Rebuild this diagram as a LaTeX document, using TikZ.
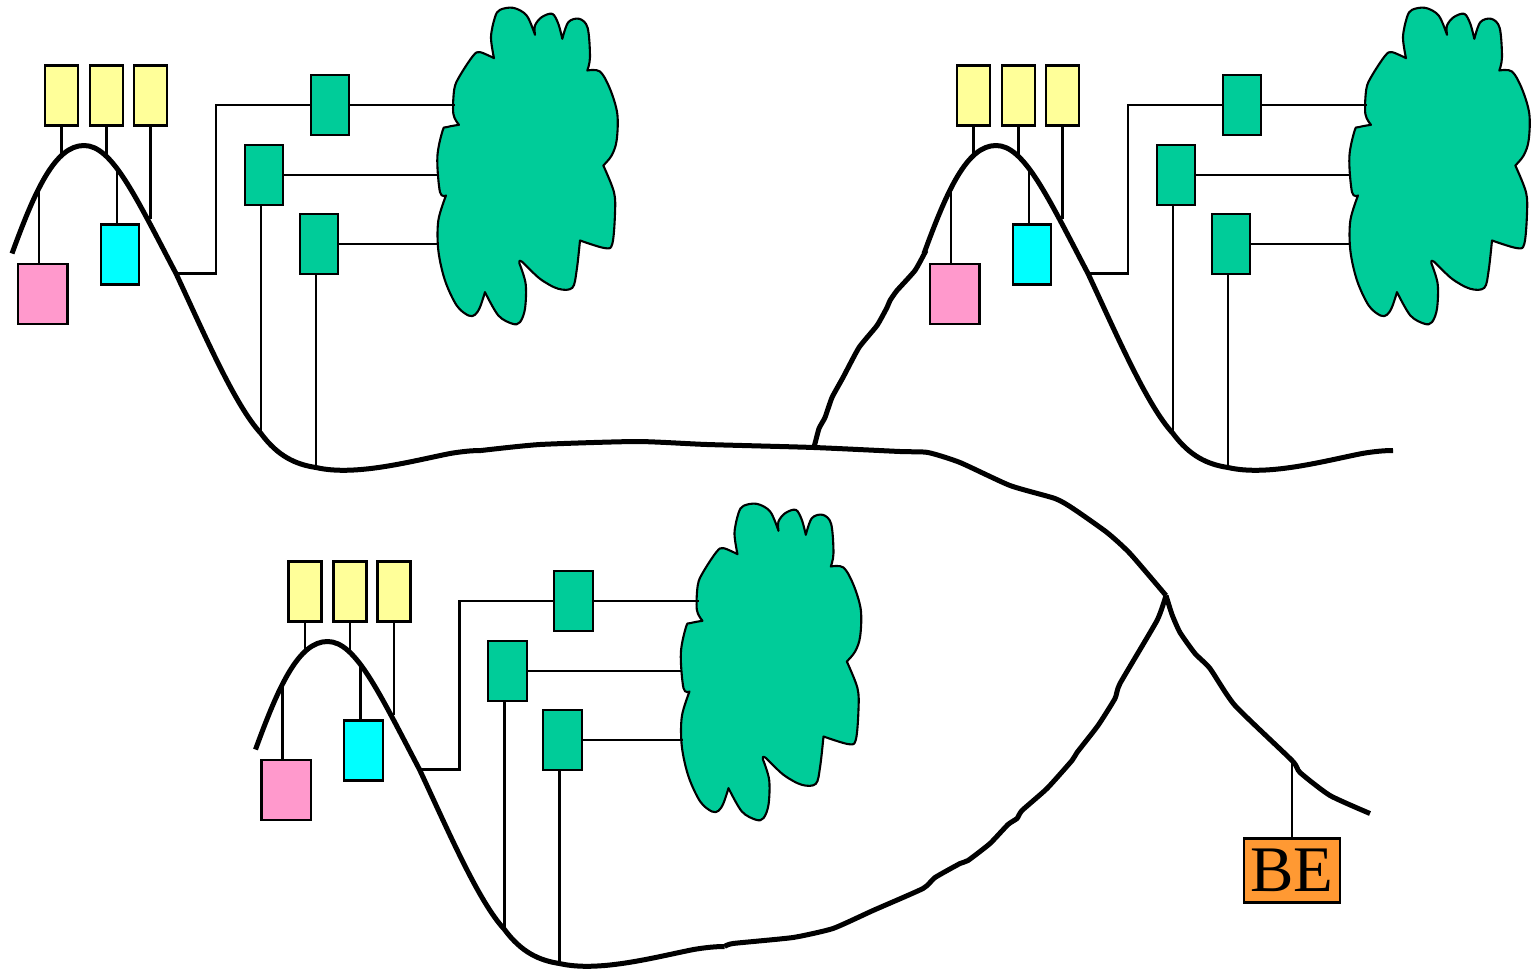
\documentclass[tikz,border=0pt]{standalone}
\usepackage{fontspec}
\setmainfont{Liberation Serif}
\definecolor{ybox}{HTML}{FFFF99}
\definecolor{tbox}{HTML}{00CC99}
\definecolor{cbox}{HTML}{00FFFF}
\definecolor{pbox}{HTML}{FF99CC}
\definecolor{obox}{HTML}{FF9933}
\tikzset{
  boxn/.style={draw=black,line width=2.1pt,inner sep=0pt,outer sep=0pt},
  yboxn/.style={boxn,fill=ybox,minimum width=33pt,minimum height=60pt},
  tboxn/.style={boxn,fill=tbox,minimum width=38.5pt,minimum height=59.5pt},
  cboxn/.style={boxn,fill=cbox,minimum width=38.5pt,minimum height=60pt},
  pboxn/.style={boxn,fill=pbox,minimum width=49.5pt,minimum height=59.5pt},
  oboxn/.style={boxn,fill=obox,minimum width=96pt,minimum height=64pt,font=\fontsize{65}{65}\selectfont},
  thin line/.style={draw=black,line width=2.1pt,line join=miter},
  thick line/.style={draw=black,line width=5pt,line join=round,line cap=butt},
  cloudp/.style={draw=black,fill=tbox,line width=2.1pt,line join=round}
}
\newcommand{\cluster}[3]{%
\begin{scope}[shift={(#1,#2)},name prefix=#3-]
  \coordinate (tail) at (481,450);
  \coordinate (cy1) at (61.5,154);
  \coordinate (cy2) at (106.5,154);
  \coordinate (cy3) at (150,218);
  \coordinate (cp) at (39,190);
  \coordinate (pt) at (39,264);
  \coordinate (cc) at (117,166);
  \coordinate (ct) at (117,224);
  \coordinate (cj) at (176,273);
  \coordinate (cl1) at (455,104.5);
  \coordinate (cl2) at (438,174.5);
  \coordinate (cl3) at (439,243.5);
  \coordinate (c2) at (261,433);
  \coordinate (c3) at (316,467);
  \node[yboxn] (y1) at (61.5,95) {};
  \node[yboxn] (y2) at (106.5,95) {};
  \node[yboxn] (y3) at (150.5,95) {};
  \node[tboxn] (t1) at (330,104.5) {};
  \node[tboxn] (t2) at (264,174.5) {};
  \node[tboxn] (t3) at (319,243.5) {};
  \node[cboxn] (cy) at (120,254) {};
  \node[pboxn] (pk) at (42.75,293.5) {};
  \begin{scope}[shift={(420,0)},x=0.3333pt,y=-0.3333pt]
    \path[cloudp] plot[smooth,tension=.55] coordinates {(345,103)(345,75)(365,50)(397,40)(415,70)(427,115)}
      -- plot[smooth,tension=.55] coordinates {(427,115)(445,65)(478,55)(503,82)(510,170)(502,210)}
      -- plot[smooth,tension=.55] coordinates {(502,210)(540,213)(570,265)(592,340)(590,420)(575,465)(550,495)}
      -- plot[smooth,tension=.55] coordinates {(550,495)(582,575)(585,640)(577,730)(555,743)(480,720)}
      -- plot[smooth,tension=.55] coordinates {(480,720)(470,810)(457,862)(415,865)(360,835)(305,783)(298,788)}
      -- plot[smooth,tension=.55] coordinates {(298,788)(317,850)(315,925)(300,965)(278,970)(235,945)(195,875)}
      -- plot[smooth,tension=.55] coordinates {(195,875)(180,920)(165,943)(145,945)(110,915)(75,840)(55,750)(55,660)(78,585)}
      -- plot[smooth,tension=.55] coordinates {(78,585)(60,575)(52,470)(68,390)(80,380)(117,373)}
      -- plot[smooth,tension=.55] coordinates {(117,373)(100,340)(103,265)(120,225)(160,165)(180,155)(222,173)}
      -- plot[smooth,tension=.55] coordinates {(222,173)(213,110)(225,50)(240,28)(280,22)(320,45)(345,103)}
      -- cycle;
  \end{scope}
  \draw[thin line] (y1.south) -- (cy1);
  \draw[thin line] (y2.south) -- (cy2);
  \draw[thin line] (y3.south) -- (y3.south |- cy3);
  \draw[thin line] (cp) -- (pt);
  \draw[thin line] (cc) -- (ct);
  \draw[thin line] (t1.west) -| (216,273) -- (cj);
  \draw[thin line] (t1.east) -- (cl1);
  \draw[thin line] (t2.east) -- (cl2);
  \draw[thin line] (t3.east) -- (cl3);
  \draw[thin line] (c2 |- t2.south) -- (c2);
  \draw[thin line] (c3 |- t3.south) -- (c3);
  \draw[thick line] (12,253) .. controls (35,190) and (55,145) .. (84,145)
    .. controls (112,145) and (135,195) .. (cj)
    .. controls (205,335) and (235,405) .. (c2)
    .. controls (278,456) and (296,464) .. (c3)
    .. controls (355,476) and (410,461) .. (450,453)
    .. controls (462,451) and (472,450) .. (tail);
\end{scope}}
\begin{document}
\begin{tikzpicture}[x=1pt,y=-1pt]
\useasboundingbox (0,-0.5) rectangle (1532,969.5);
\cluster{0}{0}{a}
\cluster{912}{0}{b}
\cluster{243.5}{496}{c}
\coordinate (m1) at (1166,595);
\coordinate (m2) at (814,447);
\coordinate (m3) at (1292,760);
\node[oboxn] (be) at (1292,870) {BE};
\draw[thin line] (m3) -- (be.north);
\draw[thick line] plot[smooth,tension=.35] coordinates {(a-tail)(540,444)(637,441)(707,444)(m2)(900,451)(928,452)(960,462)(1010,485)(1055,498)(1073,508)(1107,532)(1130,553)(m1)};
\draw[thick line] plot[smooth,tension=.35] coordinates {(m1)(1172,614)(1180,632)(1195,653)(1210,668)(1235,705)(m3)(1300,772)(1330,795)(1370,813)};
\draw[thick line] plot[smooth,tension=.3] coordinates {(m2)(819,428)(825,417)(832,397)(843,377)(859,347)(877,325)(887,307)(890,300)(897,290)(915,270)(926,250)};
\draw[thick line] plot[smooth,tension=.3] coordinates {(m1)(1157,620)(1120,683)(1115,698)(1098,725)(1077,752)(1072,760)(1047,788)(1022,810)(1017,818)(1008,824)(990,843)(968,860)(960,863)(935,877)(923,888)(873,910)(833,928)(793,937)(733,943)(c-tail)};
\end{tikzpicture}
\end{document}
